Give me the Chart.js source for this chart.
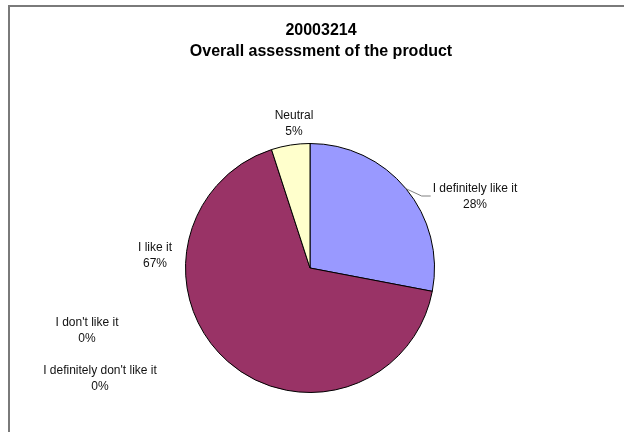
<!DOCTYPE html>
<html>
<head>
<meta charset="utf-8">
<script src="https://cdn.jsdelivr.net/npm/chart.js@4.4.1/dist/chart.umd.min.js"></script>
<style>
  html, body { margin: 0; padding: 0; background: #fff; }
  canvas { display: block; }
</style>
</head>
<body>
<canvas id="pie" width="624" height="432"></canvas>
<script>
// values
const categories = ['I definitely like it', 'I like it', 'Neutral', "I don't like it", "I definitely don't like it"];
const shares = [28, 67, 5, 0, 0];
const sliceColors = ['#9999FF', '#993366', '#FFFFCC', '#000080', '#FF00FF'];
const titleLines = ['20003214', 'Overall assessment of the product'];

// where each label block sits, relative to the pie centre (Excel had them moved by hand)
const labelNudge = [[165, -71], [-155, -12], [-16, -144], [-223, 63], [-210, 111]];
const leaderFor = [true, false, false, false, false];

const FONT = '"Liberation Sans", Arial, Helvetica, sans-serif';

// chart frame + title (the Excel frame runs past the right/bottom of the picture)
const framePlugin = {
  id: 'frame',
  beforeDraw(chart){
    const ctx = chart.ctx;
    ctx.save();
    ctx.strokeStyle = '#7a7a7a';
    ctx.lineWidth = 2;
    ctx.beginPath();
    ctx.moveTo(9, chart.height + 5);
    ctx.lineTo(9, 6);
    ctx.lineTo(chart.width + 5, 6);
    ctx.stroke();

    const titleX = 321;
    ctx.fillStyle = '#000';
    ctx.font = 'bold 16px ' + FONT;
    ctx.textAlign = 'center';
    ctx.textBaseline = 'middle';
    titleLines.forEach((t, i) => ctx.fillText(t, titleX, 31 + i * 21));
    ctx.restore();
  }
};

const labelPlugin = {
  id: 'sliceLabels',
  afterDatasetsDraw(chart){
    const ctx = chart.ctx;
    const meta = chart.getDatasetMeta(0);
    const total = shares.reduce((a, b) => a + b, 0);
    ctx.save();
    ctx.font = '12px ' + FONT;
    ctx.fillStyle = '#111';
    ctx.textAlign = 'center';
    ctx.textBaseline = 'middle';
    meta.data.forEach((arc, i) => {
      const cx = arc.x + labelNudge[i][0];
      const cy = arc.y + labelNudge[i][1];
      const pct = Math.round(shares[i] / total * 100) + '%';
      ctx.fillText(categories[i], cx, cy - 8);
      ctx.fillText(pct, cx, cy + 8);
      if (leaderFor[i]){
        const mid = (arc.startAngle + arc.endAngle) / 2;
        const sx = arc.x + arc.outerRadius * Math.cos(mid);
        const sy = arc.y + arc.outerRadius * Math.sin(mid);
        const left = cx - ctx.measureText(categories[i]).width / 2 - 2;
        ctx.strokeStyle = '#808080';
        ctx.lineWidth = 1;
        ctx.beginPath();
        ctx.moveTo(sx, sy);
        ctx.lineTo(left - 9, cy - 1);
        ctx.lineTo(left, cy - 1);
        ctx.stroke();
      }
    });
    ctx.restore();
  }
};

new Chart(document.getElementById('pie'), {
  type: 'pie',
  data: {
    labels: categories,
    datasets: [{
      data: shares,
      backgroundColor: sliceColors,
      borderColor: '#000',
      borderWidth: 1
    }]
  },
  options: {
    responsive: false,
    animation: false,
    devicePixelRatio: 1,
    layout: { padding: { left: 0, right: 4, top: 143, bottom: 39 } },
    plugins: {
      legend: { display: false },
      tooltip: { enabled: false },
      title: { display: false }
    }
  },
  plugins: [framePlugin, labelPlugin]
});
</script>
</body>
</html>
